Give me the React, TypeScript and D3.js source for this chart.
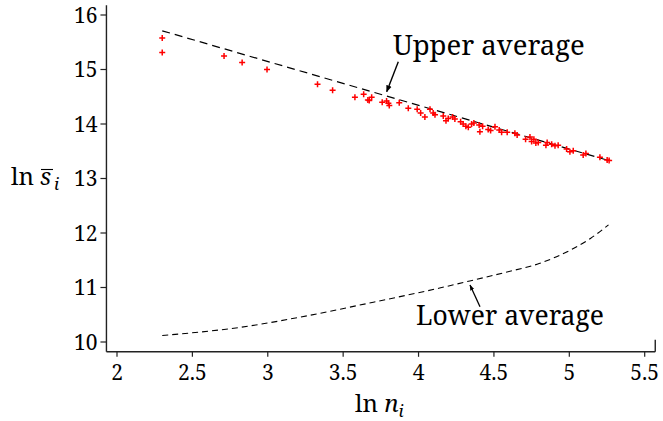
import React from "react";
import * as d3 from "d3";

const xTicks = [2, 2.5, 3, 3.5, 4, 4.5, 5, 5.5];
const xTickLabels = ["2", "2.5", "3", "3.5", "4", "4.5", "5", "5.5"];
const yTicks = [10, 11, 12, 13, 14, 15, 16];
const yTickLabels = ["10", "11", "12", "13", "14", "15", "16"];

const pointsX = [
  2.30, 2.30, 2.71, 2.83, 2.995, 3.33, 3.43,
  3.578, 3.636, 3.664, 3.689, 3.673, 3.759, 3.788, 3.806, 3.80, 3.872, 3.932, 3.991, 4.014, 4.042, 4.076, 4.097, 4.109,
  4.164, 4.182, 4.197, 4.226, 4.241, 4.279, 4.296, 4.314, 4.330, 4.352, 4.367, 4.402, 4.407, 4.425, 4.462, 4.478, 4.507, 4.535, 4.551, 4.588, 4.639, 4.654, 4.710,
  4.739, 4.750, 4.765, 4.778, 4.794, 4.845, 4.853, 4.883, 4.905, 4.926, 4.982, 5.004, 5.026, 5.092, 5.110, 5.203, 5.251, 5.264,
];
const pointsY = [
  15.58, 15.31, 15.25, 15.13, 15.00, 14.73, 14.62,
  14.49, 14.545, 14.44, 14.49, 14.43, 14.40, 14.42, 14.34, 14.38, 14.39, 14.29, 14.27, 14.20, 14.13, 14.27, 14.20, 14.17,
  14.147, 14.06, 14.10, 14.13, 14.09, 14.04, 14.00, 13.96, 13.94, 14.00, 14.02, 13.98, 13.86, 13.96, 13.90, 13.88, 13.95, 13.89, 13.85, 13.85, 13.83, 13.80, 13.72,
  13.76, 13.68, 13.72, 13.65, 13.66, 13.61, 13.66, 13.63, 13.60, 13.61, 13.54, 13.49, 13.51, 13.43, 13.46, 13.39, 13.34, 13.33,
];

const upperX = [2.30, 5.26];
const upperY = [15.71, 13.33];

const lowerX = [2.30, 2.82, 3.26, 3.70, 4.14, 4.34, 4.58, 4.80, 5.03, 5.14, 5.26];
const lowerY = [10.12, 10.27, 10.48, 10.73, 10.99, 11.12, 11.28, 11.44, 11.72, 11.90, 12.15];

const FONT = '"Noto Serif"';

export default function App() {
  const x = d3.scaleLinear().domain([2, 5.5]).range([117, 644.7]);
  const y = d3.scaleLinear().domain([10, 16]).range([342, 15]);
  const xMin = 1.93, xMax = 5.57, yMin = 9.82, yMax = 16.18;

  const line = d3
    .line<[number, number]>()
    .x((d) => x(d[0]))
    .y((d) => y(d[1]));
  const curve = d3
    .line<[number, number]>()
    .x((d) => x(d[0]))
    .y((d) => y(d[1]))
    .curve(d3.curveMonotoneX);

  const upper = upperX.map((v, i) => [v, upperY[i]] as [number, number]);
  const lower = lowerX.map((v, i) => [v, lowerY[i]] as [number, number]);

  const axisColor = "#222";
  const s = 3;
  const txt = { fontFamily: FONT } as React.CSSProperties;

  return (
    <svg
      width={663}
      height={421}
      style={{ position: "absolute", left: 0, top: 0, background: "#fff" }}
    >
      <defs>
        <marker id="ah" viewBox="0 0 10 10" refX="9" refY="5" markerWidth="7" markerHeight="7" orient="auto" markerUnits="userSpaceOnUse">
          <path d="M0,1 L10,5 L0,9 Z" fill="#000" />
        </marker>
        <marker id="ah2" viewBox="0 0 10 10" refX="9" refY="5" markerWidth="6" markerHeight="6" orient="auto" markerUnits="userSpaceOnUse">
          <path d="M0,1.5 L10,5 L0,8.5 Z" fill="#000" />
        </marker>
      </defs>

      {/* axes */}
      <line x1={x(xMin)} x2={x(xMin)} y1={y(yMax)} y2={y(yMin)} stroke={axisColor} strokeWidth={1.4} />
      <line x1={x(xMin)} x2={x(xMax)} y1={y(yMin)} y2={y(yMin)} stroke={axisColor} strokeWidth={1.4} />
      <line x1={x(xMax)} x2={x(xMax)} y1={y(yMin)} y2={y(yMin) - 12} stroke={axisColor} strokeWidth={1.4} />

      {yTicks.map((t, i) => (
        <g key={"y" + t}>
          <line x1={x(xMin) - 6} x2={x(xMin)} y1={y(t)} y2={y(t)} stroke={axisColor} strokeWidth={1.2} />
          <text x={x(xMin) - 9} y={y(t)} dy="0.36em" textAnchor="end" fontSize={21} fill="#000" style={txt}>
            {yTickLabels[i]}
          </text>
        </g>
      ))}
      {xTicks.map((t, i) => (
        <g key={"x" + t}>
          <line x1={x(t)} x2={x(t)} y1={y(yMin)} y2={y(yMin) + 5} stroke={axisColor} strokeWidth={1.2} />
          <text x={x(t)} y={380} textAnchor="middle" fontSize={21} fill="#000" style={txt}>
            {xTickLabels[i]}
          </text>
        </g>
      ))}

      {/* y axis title: ln s-bar_i */}
      <g fill="#000" style={txt}>
        <text x={11} y={185} fontSize={24}>ln</text>
        <text x={40} y={185} fontSize={24} fontStyle="italic">s</text>
        <line x1={41} x2={53} y1={169.5} y2={169.5} stroke="#000" strokeWidth={1.1} />
        <text x={54} y={190} fontSize={17} fontStyle="italic">i</text>
      </g>
      <text x={355} y={412} fontSize={24} fill="#000" style={txt}>
        <tspan>ln </tspan>
        <tspan fontStyle="italic">n</tspan>
        <tspan fontStyle="italic" fontSize={17} dy={5}>i</tspan>
      </text>

      {/* average lines */}
      <path d={line(upper) || ""} fill="none" stroke="#000" strokeWidth={1.2} strokeDasharray="8,5" />
      <path d={curve(lower) || ""} fill="none" stroke="#000" strokeWidth={1.1} strokeDasharray="6,4" />

      {/* points */}
      {pointsX.map((px, i) => (
        <path
          key={i}
          d={`M${x(px) - s},${y(pointsY[i])}h${2 * s}M${x(px)},${y(pointsY[i]) - s}v${2 * s}`}
          stroke="#ff0000"
          strokeWidth={1.5}
          fill="none"
        />
      ))}

      {/* annotations */}
      <text x={393} y={55} fontSize={27.5} fill="#000" style={txt}>Upper average</text>
      <line x1={398.3} y1={61.7} x2={386.7} y2={91.7} stroke="#000" strokeWidth={1.4} markerEnd="url(#ah)" />
      <text x={416} y={325} fontSize={26.5} fill="#000" style={txt}>Lower average</text>
      <line x1={480} y1={306.7} x2={470} y2={285} stroke="#000" strokeWidth={1.3} markerEnd="url(#ah2)" />
    </svg>
  );
}
